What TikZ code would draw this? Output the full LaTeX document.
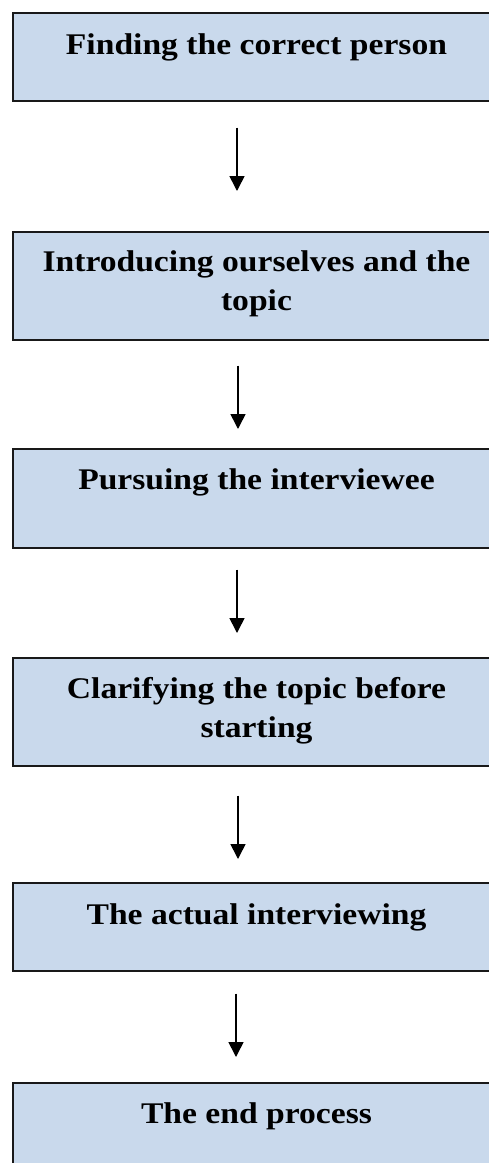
\documentclass[tikz,border=0pt]{standalone}
\usepackage{fontspec}
\setmainfont{Liberation Serif}[FakeStretch=1.12]
\usetikzlibrary{arrows.meta}
\definecolor{boxfill}{RGB}{201,217,236}
\definecolor{boxline}{RGB}{25,25,25}
\tikzset{
  stepbox/.style={draw=boxline, fill=boxfill, line width=1.5pt, minimum width=487pt, inner sep=0pt, anchor=north},
  steptext/.style={font=\fontsize{30}{39}\selectfont\bfseries, align=center, inner sep=0pt, text=black, anchor=base},
  arr/.style={line width=1.6pt, -{Triangle[length=15pt,width=15pt]}}
}
\begin{document}
\begin{tikzpicture}[x=1pt,y=-1pt]
\useasboundingbox (0,0) rectangle (489,1163);
\node[stepbox, minimum height=88pt]  (b1) at (256.5,12) {};
\node[stepbox, minimum height=108pt] (b2) at (256.5,231) {};
\node[stepbox, minimum height=99pt]  (b3) at (256.5,448) {};
\node[stepbox, minimum height=108pt] (b4) at (256.5,657) {};
\node[stepbox, minimum height=88pt]  (b5) at (256.5,882) {};
\node[stepbox, minimum height=95pt]  (b6) at (256.5,1082) {};

\node[steptext] (t1) at (256.5,54) {Finding the correct person};
\node[steptext] (t2) at (256.5,310) {Introducing ourselves and the\\topic};
\node[steptext] (t3) at (256.5,489) {Pursuing the interviewee};
\node[steptext] (t4) at (256.5,737) {Clarifying the topic before\\starting};
\node[steptext] (t5) at (256.5,924) {The actual interviewing};
\node[steptext] (t6) at (256.5,1123) {The end process};

\draw[arr] ([xshift=-19.5pt,yshift=-26pt]b1.south) -- ([xshift=-19.5pt,yshift=40pt]b2.north);
\draw[arr] ([xshift=-18.5pt,yshift=-25pt]b2.south) -- ([xshift=-18.5pt,yshift=19pt]b3.north);
\draw[arr] ([xshift=-19.5pt,yshift=-21pt]b3.south) -- ([xshift=-19.5pt,yshift=24pt]b4.north);
\draw[arr] ([xshift=-18.5pt,yshift=-29pt]b4.south) -- ([xshift=-18.5pt,yshift=23pt]b5.north);
\draw[arr] ([xshift=-20.5pt,yshift=-22pt]b5.south) -- ([xshift=-20.5pt,yshift=25pt]b6.north);
\end{tikzpicture}
\end{document}
